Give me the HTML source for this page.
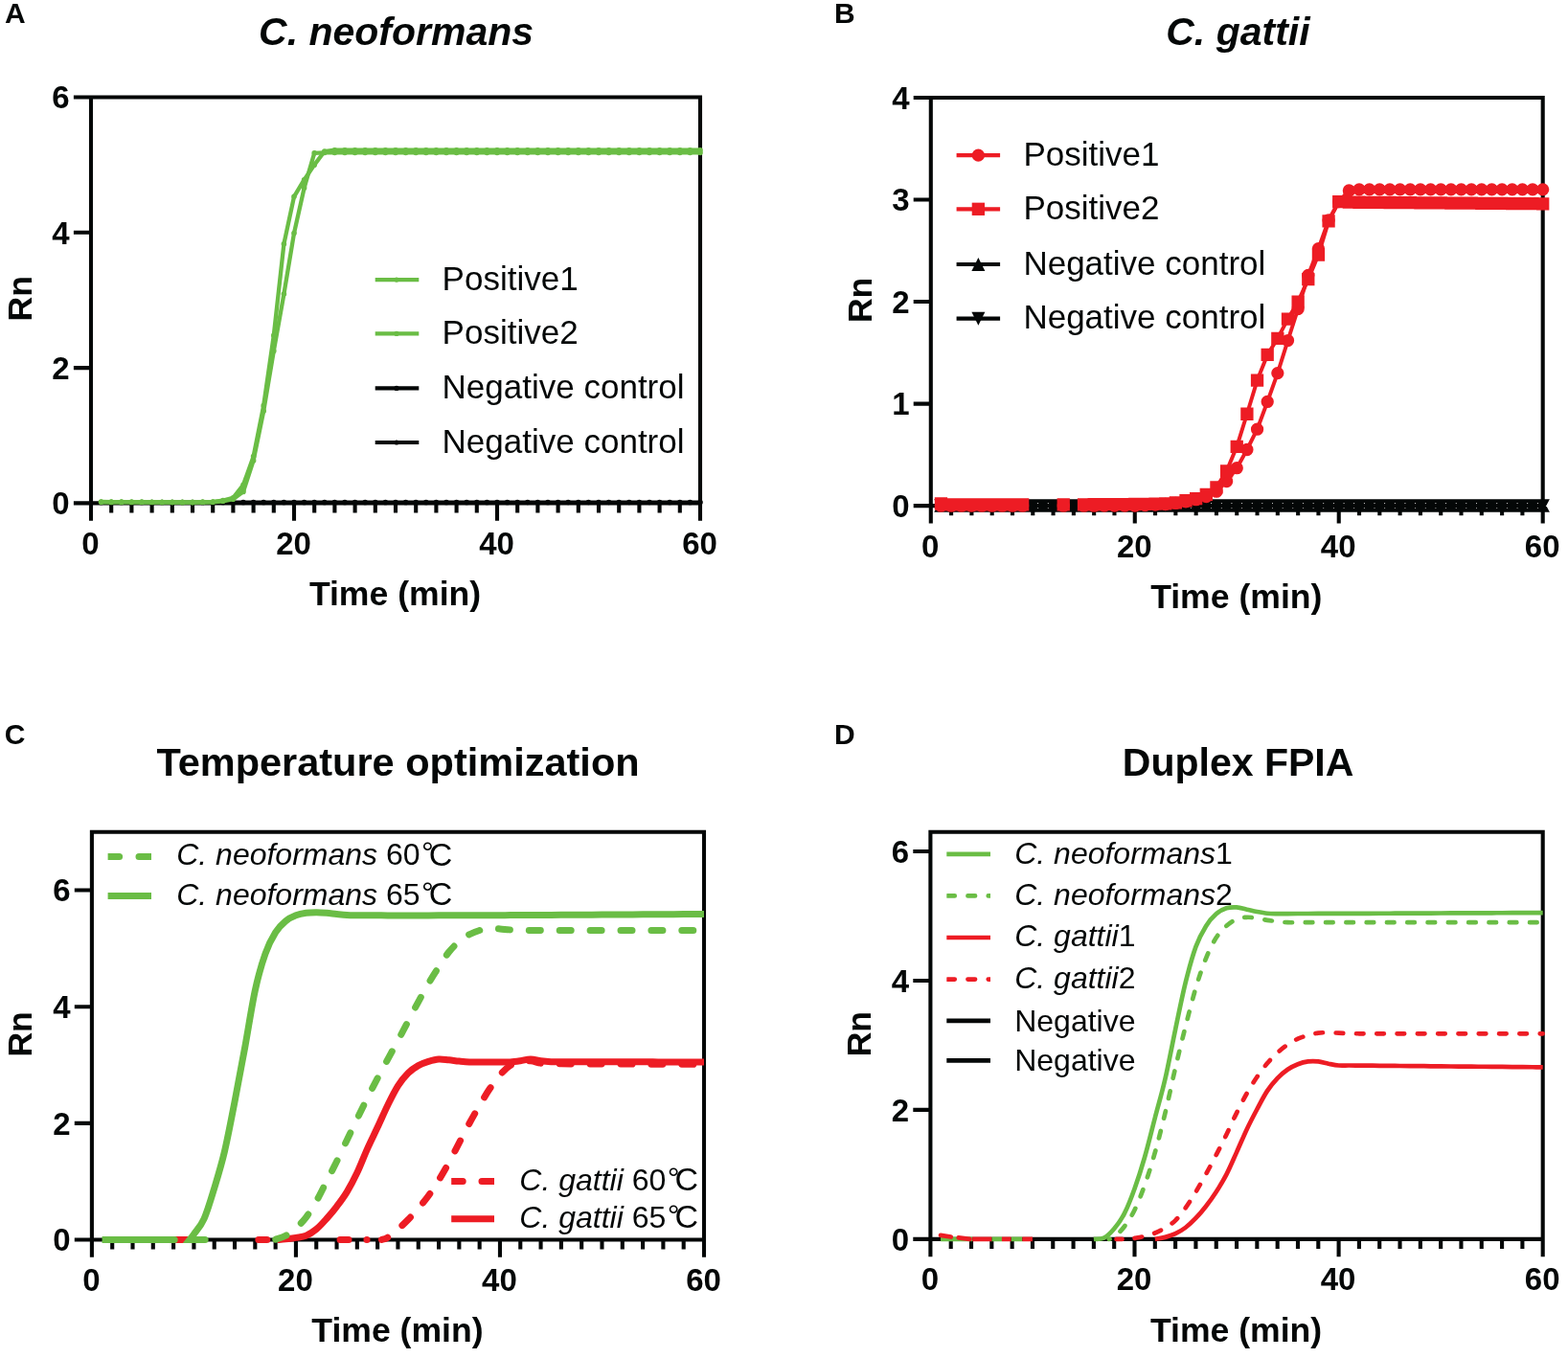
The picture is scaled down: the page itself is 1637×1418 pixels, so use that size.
<!DOCTYPE html>
<html lang="en"><head><meta charset="utf-8"><title>FPIA amplification curves</title>
<style>
html,body{margin:0;padding:0;background:#fff}
svg{display:block}
text{font-family:"Liberation Sans",sans-serif;fill:#040707}
.tk{font-size:33px;font-weight:bold}
.al{font-size:35.6px;font-weight:bold}
.ti{font-size:41px;font-weight:bold}
.pl{font-size:30px;font-weight:bold}
.lg{font-size:35px}
.ls{font-size:32px}
.it{font-style:italic}
</style></head><body>
<svg width="1637" height="1418" viewBox="0 0 1637 1418">
<rect width="1637" height="1418" fill="#fff"/>
<text class="pl" x="5" y="24">A</text>
<text class="pl" x="870.9" y="24">B</text>
<text class="pl" x="4.8" y="777.3">C</text>
<text class="pl" x="870.9" y="777">D</text>
<text class="ti it" text-anchor="middle" x="413.6" y="46.5">C. neoformans</text>
<text class="ti it" text-anchor="middle" x="1292.4" y="46.5">C. gattii</text>
<text class="ti" style="font-size:41.5px" text-anchor="middle" x="415.5" y="809.6">Temperature optimization</text>
<text class="ti" text-anchor="middle" x="1292.6" y="809.9">Duplex FPIA</text>
<g id="panelA">
<path d="M95 101.5H731M92.95 525.4H733.05M95 99.45V543.7M731 99.45V543.7M116.2 525.4V535.5M137.4 525.4V535.5M158.6 525.4V535.5M179.8 525.4V535.5M201 525.4V535.5M222.2 525.4V535.5M243.4 525.4V535.5M264.6 525.4V535.5M285.8 525.4V535.5M307 525.4V543.7M328.2 525.4V535.5M349.4 525.4V535.5M370.6 525.4V535.5M391.8 525.4V535.5M413 525.4V535.5M434.2 525.4V535.5M455.4 525.4V535.5M476.6 525.4V535.5M497.8 525.4V535.5M519 525.4V543.7M540.2 525.4V535.5M561.4 525.4V535.5M582.6 525.4V535.5M603.8 525.4V535.5M625 525.4V535.5M646.2 525.4V535.5M667.4 525.4V535.5M688.6 525.4V535.5M709.8 525.4V535.5M76.9 525.4H95M76.9 384.1H95M76.9 242.8H95M76.9 101.5H95" fill="none" stroke="#040707" stroke-width="4.1"/>
<path d="M105.6 524.55L116.2 524.55L126.8 524.55L137.4 524.55L148 524.55L158.6 524.55L169.2 524.55L179.8 524.55L190.4 524.55L201 524.55L211.6 524.55L222.2 524.55L232.8 524.55L243.4 524.55L254 524.55L264.6 524.55L275.2 524.55L285.8 524.55L296.4 524.55L307 524.55L317.6 524.55L328.2 524.55L338.8 524.55L349.4 524.55L360 524.55L370.6 524.55L381.2 524.55L391.8 524.55L402.4 524.55L413 524.55L423.6 524.55L434.2 524.55L444.8 524.55L455.4 524.55L466 524.55L476.6 524.55L487.2 524.55L497.8 524.55L508.4 524.55L519 524.55L529.6 524.55L540.2 524.55L550.8 524.55L561.4 524.55L572 524.55L582.6 524.55L593.2 524.55L603.8 524.55L614.4 524.55L625 524.55L635.6 524.55L646.2 524.55L656.8 524.55L667.4 524.55L678 524.55L688.6 524.55L699.2 524.55L709.8 524.55L720.4 524.55L731 524.55" fill="none" stroke="#040707" stroke-width="4.3"/>
<path d="M102.8 524.55a2.8 2.8 0 1 0 5.6 0a2.8 2.8 0 1 0 -5.6 0ZM113.4 524.55a2.8 2.8 0 1 0 5.6 0a2.8 2.8 0 1 0 -5.6 0ZM124 524.55a2.8 2.8 0 1 0 5.6 0a2.8 2.8 0 1 0 -5.6 0ZM134.6 524.55a2.8 2.8 0 1 0 5.6 0a2.8 2.8 0 1 0 -5.6 0ZM145.2 524.55a2.8 2.8 0 1 0 5.6 0a2.8 2.8 0 1 0 -5.6 0ZM155.8 524.55a2.8 2.8 0 1 0 5.6 0a2.8 2.8 0 1 0 -5.6 0ZM166.4 524.55a2.8 2.8 0 1 0 5.6 0a2.8 2.8 0 1 0 -5.6 0ZM177 524.55a2.8 2.8 0 1 0 5.6 0a2.8 2.8 0 1 0 -5.6 0ZM187.6 524.55a2.8 2.8 0 1 0 5.6 0a2.8 2.8 0 1 0 -5.6 0ZM198.2 524.55a2.8 2.8 0 1 0 5.6 0a2.8 2.8 0 1 0 -5.6 0ZM208.8 524.55a2.8 2.8 0 1 0 5.6 0a2.8 2.8 0 1 0 -5.6 0ZM219.4 524.55a2.8 2.8 0 1 0 5.6 0a2.8 2.8 0 1 0 -5.6 0ZM230 524.55a2.8 2.8 0 1 0 5.6 0a2.8 2.8 0 1 0 -5.6 0ZM240.6 524.55a2.8 2.8 0 1 0 5.6 0a2.8 2.8 0 1 0 -5.6 0ZM251.2 524.55a2.8 2.8 0 1 0 5.6 0a2.8 2.8 0 1 0 -5.6 0ZM261.8 524.55a2.8 2.8 0 1 0 5.6 0a2.8 2.8 0 1 0 -5.6 0ZM272.4 524.55a2.8 2.8 0 1 0 5.6 0a2.8 2.8 0 1 0 -5.6 0ZM283 524.55a2.8 2.8 0 1 0 5.6 0a2.8 2.8 0 1 0 -5.6 0ZM293.6 524.55a2.8 2.8 0 1 0 5.6 0a2.8 2.8 0 1 0 -5.6 0ZM304.2 524.55a2.8 2.8 0 1 0 5.6 0a2.8 2.8 0 1 0 -5.6 0ZM314.8 524.55a2.8 2.8 0 1 0 5.6 0a2.8 2.8 0 1 0 -5.6 0ZM325.4 524.55a2.8 2.8 0 1 0 5.6 0a2.8 2.8 0 1 0 -5.6 0ZM336 524.55a2.8 2.8 0 1 0 5.6 0a2.8 2.8 0 1 0 -5.6 0ZM346.6 524.55a2.8 2.8 0 1 0 5.6 0a2.8 2.8 0 1 0 -5.6 0ZM357.2 524.55a2.8 2.8 0 1 0 5.6 0a2.8 2.8 0 1 0 -5.6 0ZM367.8 524.55a2.8 2.8 0 1 0 5.6 0a2.8 2.8 0 1 0 -5.6 0ZM378.4 524.55a2.8 2.8 0 1 0 5.6 0a2.8 2.8 0 1 0 -5.6 0ZM389 524.55a2.8 2.8 0 1 0 5.6 0a2.8 2.8 0 1 0 -5.6 0ZM399.6 524.55a2.8 2.8 0 1 0 5.6 0a2.8 2.8 0 1 0 -5.6 0ZM410.2 524.55a2.8 2.8 0 1 0 5.6 0a2.8 2.8 0 1 0 -5.6 0ZM420.8 524.55a2.8 2.8 0 1 0 5.6 0a2.8 2.8 0 1 0 -5.6 0ZM431.4 524.55a2.8 2.8 0 1 0 5.6 0a2.8 2.8 0 1 0 -5.6 0ZM442 524.55a2.8 2.8 0 1 0 5.6 0a2.8 2.8 0 1 0 -5.6 0ZM452.6 524.55a2.8 2.8 0 1 0 5.6 0a2.8 2.8 0 1 0 -5.6 0ZM463.2 524.55a2.8 2.8 0 1 0 5.6 0a2.8 2.8 0 1 0 -5.6 0ZM473.8 524.55a2.8 2.8 0 1 0 5.6 0a2.8 2.8 0 1 0 -5.6 0ZM484.4 524.55a2.8 2.8 0 1 0 5.6 0a2.8 2.8 0 1 0 -5.6 0ZM495 524.55a2.8 2.8 0 1 0 5.6 0a2.8 2.8 0 1 0 -5.6 0ZM505.6 524.55a2.8 2.8 0 1 0 5.6 0a2.8 2.8 0 1 0 -5.6 0ZM516.2 524.55a2.8 2.8 0 1 0 5.6 0a2.8 2.8 0 1 0 -5.6 0ZM526.8 524.55a2.8 2.8 0 1 0 5.6 0a2.8 2.8 0 1 0 -5.6 0ZM537.4 524.55a2.8 2.8 0 1 0 5.6 0a2.8 2.8 0 1 0 -5.6 0ZM548 524.55a2.8 2.8 0 1 0 5.6 0a2.8 2.8 0 1 0 -5.6 0ZM558.6 524.55a2.8 2.8 0 1 0 5.6 0a2.8 2.8 0 1 0 -5.6 0ZM569.2 524.55a2.8 2.8 0 1 0 5.6 0a2.8 2.8 0 1 0 -5.6 0ZM579.8 524.55a2.8 2.8 0 1 0 5.6 0a2.8 2.8 0 1 0 -5.6 0ZM590.4 524.55a2.8 2.8 0 1 0 5.6 0a2.8 2.8 0 1 0 -5.6 0ZM601 524.55a2.8 2.8 0 1 0 5.6 0a2.8 2.8 0 1 0 -5.6 0ZM611.6 524.55a2.8 2.8 0 1 0 5.6 0a2.8 2.8 0 1 0 -5.6 0ZM622.2 524.55a2.8 2.8 0 1 0 5.6 0a2.8 2.8 0 1 0 -5.6 0ZM632.8 524.55a2.8 2.8 0 1 0 5.6 0a2.8 2.8 0 1 0 -5.6 0ZM643.4 524.55a2.8 2.8 0 1 0 5.6 0a2.8 2.8 0 1 0 -5.6 0ZM654 524.55a2.8 2.8 0 1 0 5.6 0a2.8 2.8 0 1 0 -5.6 0ZM664.6 524.55a2.8 2.8 0 1 0 5.6 0a2.8 2.8 0 1 0 -5.6 0ZM675.2 524.55a2.8 2.8 0 1 0 5.6 0a2.8 2.8 0 1 0 -5.6 0ZM685.8 524.55a2.8 2.8 0 1 0 5.6 0a2.8 2.8 0 1 0 -5.6 0ZM696.4 524.55a2.8 2.8 0 1 0 5.6 0a2.8 2.8 0 1 0 -5.6 0ZM707 524.55a2.8 2.8 0 1 0 5.6 0a2.8 2.8 0 1 0 -5.6 0ZM717.6 524.55a2.8 2.8 0 1 0 5.6 0a2.8 2.8 0 1 0 -5.6 0ZM728.2 524.55a2.8 2.8 0 1 0 5.6 0a2.8 2.8 0 1 0 -5.6 0Z" fill="#040707"/>
<path d="M105.6 524.34L116.2 524.38L126.8 524.42L137.4 524.46L148 524.5L158.6 524.54L169.2 524.58L179.8 524.62L190.4 524.65L201 524.69L211.6 524.52L222.2 524.34L232.8 523.28L243.4 521.16L254 513.39L264.6 480.89L275.2 429.32L285.8 366.44L296.4 307.09L307 243.51L317.6 196.17L328.2 159.79L338.8 159.43L349.4 159.43L360 159.43L370.6 159.43L381.2 159.43L391.8 159.43L402.4 159.43L413 159.43L423.6 159.43L434.2 159.43L444.8 159.43L455.4 159.43L466 159.43L476.6 159.43L487.2 159.43L497.8 159.43L508.4 159.43L519 159.43L529.6 159.43L540.2 159.43L550.8 159.43L561.4 159.43L572 159.43L582.6 159.43L593.2 159.43L603.8 159.43L614.4 159.43L625 159.43L635.6 159.43L646.2 159.43L656.8 159.43L667.4 159.43L678 159.43L688.6 159.43L699.2 159.43L709.8 159.43L720.4 159.43L731 159.43" fill="none" stroke="#6abd45" stroke-width="4.3" stroke-linejoin="round"/>
<path d="M102.8 524.34a2.8 2.8 0 1 0 5.6 0a2.8 2.8 0 1 0 -5.6 0ZM113.4 524.38a2.8 2.8 0 1 0 5.6 0a2.8 2.8 0 1 0 -5.6 0ZM124 524.42a2.8 2.8 0 1 0 5.6 0a2.8 2.8 0 1 0 -5.6 0ZM134.6 524.46a2.8 2.8 0 1 0 5.6 0a2.8 2.8 0 1 0 -5.6 0ZM145.2 524.5a2.8 2.8 0 1 0 5.6 0a2.8 2.8 0 1 0 -5.6 0ZM155.8 524.54a2.8 2.8 0 1 0 5.6 0a2.8 2.8 0 1 0 -5.6 0ZM166.4 524.58a2.8 2.8 0 1 0 5.6 0a2.8 2.8 0 1 0 -5.6 0ZM177 524.62a2.8 2.8 0 1 0 5.6 0a2.8 2.8 0 1 0 -5.6 0ZM187.6 524.65a2.8 2.8 0 1 0 5.6 0a2.8 2.8 0 1 0 -5.6 0ZM198.2 524.69a2.8 2.8 0 1 0 5.6 0a2.8 2.8 0 1 0 -5.6 0ZM208.8 524.52a2.8 2.8 0 1 0 5.6 0a2.8 2.8 0 1 0 -5.6 0ZM219.4 524.34a2.8 2.8 0 1 0 5.6 0a2.8 2.8 0 1 0 -5.6 0ZM230 523.28a2.8 2.8 0 1 0 5.6 0a2.8 2.8 0 1 0 -5.6 0ZM240.6 521.16a2.8 2.8 0 1 0 5.6 0a2.8 2.8 0 1 0 -5.6 0ZM251.2 513.39a2.8 2.8 0 1 0 5.6 0a2.8 2.8 0 1 0 -5.6 0ZM261.8 480.89a2.8 2.8 0 1 0 5.6 0a2.8 2.8 0 1 0 -5.6 0ZM272.4 429.32a2.8 2.8 0 1 0 5.6 0a2.8 2.8 0 1 0 -5.6 0ZM283 366.44a2.8 2.8 0 1 0 5.6 0a2.8 2.8 0 1 0 -5.6 0ZM293.6 307.09a2.8 2.8 0 1 0 5.6 0a2.8 2.8 0 1 0 -5.6 0ZM304.2 243.51a2.8 2.8 0 1 0 5.6 0a2.8 2.8 0 1 0 -5.6 0ZM314.8 196.17a2.8 2.8 0 1 0 5.6 0a2.8 2.8 0 1 0 -5.6 0ZM325.4 159.79a2.8 2.8 0 1 0 5.6 0a2.8 2.8 0 1 0 -5.6 0ZM336 159.43a2.8 2.8 0 1 0 5.6 0a2.8 2.8 0 1 0 -5.6 0ZM346.6 159.43a2.8 2.8 0 1 0 5.6 0a2.8 2.8 0 1 0 -5.6 0ZM357.2 159.43a2.8 2.8 0 1 0 5.6 0a2.8 2.8 0 1 0 -5.6 0ZM367.8 159.43a2.8 2.8 0 1 0 5.6 0a2.8 2.8 0 1 0 -5.6 0ZM378.4 159.43a2.8 2.8 0 1 0 5.6 0a2.8 2.8 0 1 0 -5.6 0ZM389 159.43a2.8 2.8 0 1 0 5.6 0a2.8 2.8 0 1 0 -5.6 0ZM399.6 159.43a2.8 2.8 0 1 0 5.6 0a2.8 2.8 0 1 0 -5.6 0ZM410.2 159.43a2.8 2.8 0 1 0 5.6 0a2.8 2.8 0 1 0 -5.6 0ZM420.8 159.43a2.8 2.8 0 1 0 5.6 0a2.8 2.8 0 1 0 -5.6 0ZM431.4 159.43a2.8 2.8 0 1 0 5.6 0a2.8 2.8 0 1 0 -5.6 0ZM442 159.43a2.8 2.8 0 1 0 5.6 0a2.8 2.8 0 1 0 -5.6 0ZM452.6 159.43a2.8 2.8 0 1 0 5.6 0a2.8 2.8 0 1 0 -5.6 0ZM463.2 159.43a2.8 2.8 0 1 0 5.6 0a2.8 2.8 0 1 0 -5.6 0ZM473.8 159.43a2.8 2.8 0 1 0 5.6 0a2.8 2.8 0 1 0 -5.6 0ZM484.4 159.43a2.8 2.8 0 1 0 5.6 0a2.8 2.8 0 1 0 -5.6 0ZM495 159.43a2.8 2.8 0 1 0 5.6 0a2.8 2.8 0 1 0 -5.6 0ZM505.6 159.43a2.8 2.8 0 1 0 5.6 0a2.8 2.8 0 1 0 -5.6 0ZM516.2 159.43a2.8 2.8 0 1 0 5.6 0a2.8 2.8 0 1 0 -5.6 0ZM526.8 159.43a2.8 2.8 0 1 0 5.6 0a2.8 2.8 0 1 0 -5.6 0ZM537.4 159.43a2.8 2.8 0 1 0 5.6 0a2.8 2.8 0 1 0 -5.6 0ZM548 159.43a2.8 2.8 0 1 0 5.6 0a2.8 2.8 0 1 0 -5.6 0ZM558.6 159.43a2.8 2.8 0 1 0 5.6 0a2.8 2.8 0 1 0 -5.6 0ZM569.2 159.43a2.8 2.8 0 1 0 5.6 0a2.8 2.8 0 1 0 -5.6 0ZM579.8 159.43a2.8 2.8 0 1 0 5.6 0a2.8 2.8 0 1 0 -5.6 0ZM590.4 159.43a2.8 2.8 0 1 0 5.6 0a2.8 2.8 0 1 0 -5.6 0ZM601 159.43a2.8 2.8 0 1 0 5.6 0a2.8 2.8 0 1 0 -5.6 0ZM611.6 159.43a2.8 2.8 0 1 0 5.6 0a2.8 2.8 0 1 0 -5.6 0ZM622.2 159.43a2.8 2.8 0 1 0 5.6 0a2.8 2.8 0 1 0 -5.6 0ZM632.8 159.43a2.8 2.8 0 1 0 5.6 0a2.8 2.8 0 1 0 -5.6 0ZM643.4 159.43a2.8 2.8 0 1 0 5.6 0a2.8 2.8 0 1 0 -5.6 0ZM654 159.43a2.8 2.8 0 1 0 5.6 0a2.8 2.8 0 1 0 -5.6 0ZM664.6 159.43a2.8 2.8 0 1 0 5.6 0a2.8 2.8 0 1 0 -5.6 0ZM675.2 159.43a2.8 2.8 0 1 0 5.6 0a2.8 2.8 0 1 0 -5.6 0ZM685.8 159.43a2.8 2.8 0 1 0 5.6 0a2.8 2.8 0 1 0 -5.6 0ZM696.4 159.43a2.8 2.8 0 1 0 5.6 0a2.8 2.8 0 1 0 -5.6 0ZM707 159.43a2.8 2.8 0 1 0 5.6 0a2.8 2.8 0 1 0 -5.6 0ZM717.6 159.43a2.8 2.8 0 1 0 5.6 0a2.8 2.8 0 1 0 -5.6 0ZM728.2 159.43a2.8 2.8 0 1 0 5.6 0a2.8 2.8 0 1 0 -5.6 0Z" fill="#6abd45"/>
<path d="M105.6 523.99L116.2 524.03L126.8 524.07L137.4 524.1L148 524.14L158.6 524.18L169.2 524.22L179.8 524.26L190.4 524.3L201 524.34L211.6 524.16L222.2 523.99L232.8 522.57L243.4 519.75L254 506.32L264.6 476.65L275.2 423.66L285.8 350.19L296.4 254.81L307 205.36L317.6 187.69L328.2 172.15L338.8 158.02L349.4 156.75L360 156.75L370.6 156.75L381.2 156.75L391.8 156.75L402.4 156.75L413 156.75L423.6 156.75L434.2 156.75L444.8 156.75L455.4 156.75L466 156.75L476.6 156.75L487.2 156.75L497.8 156.75L508.4 156.75L519 156.75L529.6 156.75L540.2 156.75L550.8 156.75L561.4 156.75L572 156.75L582.6 156.75L593.2 156.75L603.8 156.75L614.4 156.75L625 156.75L635.6 156.75L646.2 156.75L656.8 156.75L667.4 156.75L678 156.75L688.6 156.75L699.2 156.75L709.8 156.75L720.4 156.75L731 156.75" fill="none" stroke="#6abd45" stroke-width="4.3" stroke-linejoin="round"/>
<path d="M102.8 523.99a2.8 2.8 0 1 0 5.6 0a2.8 2.8 0 1 0 -5.6 0ZM113.4 524.03a2.8 2.8 0 1 0 5.6 0a2.8 2.8 0 1 0 -5.6 0ZM124 524.07a2.8 2.8 0 1 0 5.6 0a2.8 2.8 0 1 0 -5.6 0ZM134.6 524.1a2.8 2.8 0 1 0 5.6 0a2.8 2.8 0 1 0 -5.6 0ZM145.2 524.14a2.8 2.8 0 1 0 5.6 0a2.8 2.8 0 1 0 -5.6 0ZM155.8 524.18a2.8 2.8 0 1 0 5.6 0a2.8 2.8 0 1 0 -5.6 0ZM166.4 524.22a2.8 2.8 0 1 0 5.6 0a2.8 2.8 0 1 0 -5.6 0ZM177 524.26a2.8 2.8 0 1 0 5.6 0a2.8 2.8 0 1 0 -5.6 0ZM187.6 524.3a2.8 2.8 0 1 0 5.6 0a2.8 2.8 0 1 0 -5.6 0ZM198.2 524.34a2.8 2.8 0 1 0 5.6 0a2.8 2.8 0 1 0 -5.6 0ZM208.8 524.16a2.8 2.8 0 1 0 5.6 0a2.8 2.8 0 1 0 -5.6 0ZM219.4 523.99a2.8 2.8 0 1 0 5.6 0a2.8 2.8 0 1 0 -5.6 0ZM230 522.57a2.8 2.8 0 1 0 5.6 0a2.8 2.8 0 1 0 -5.6 0ZM240.6 519.75a2.8 2.8 0 1 0 5.6 0a2.8 2.8 0 1 0 -5.6 0ZM251.2 506.32a2.8 2.8 0 1 0 5.6 0a2.8 2.8 0 1 0 -5.6 0ZM261.8 476.65a2.8 2.8 0 1 0 5.6 0a2.8 2.8 0 1 0 -5.6 0ZM272.4 423.66a2.8 2.8 0 1 0 5.6 0a2.8 2.8 0 1 0 -5.6 0ZM283 350.19a2.8 2.8 0 1 0 5.6 0a2.8 2.8 0 1 0 -5.6 0ZM293.6 254.81a2.8 2.8 0 1 0 5.6 0a2.8 2.8 0 1 0 -5.6 0ZM304.2 205.36a2.8 2.8 0 1 0 5.6 0a2.8 2.8 0 1 0 -5.6 0ZM314.8 187.69a2.8 2.8 0 1 0 5.6 0a2.8 2.8 0 1 0 -5.6 0ZM325.4 172.15a2.8 2.8 0 1 0 5.6 0a2.8 2.8 0 1 0 -5.6 0ZM336 158.02a2.8 2.8 0 1 0 5.6 0a2.8 2.8 0 1 0 -5.6 0ZM346.6 156.75a2.8 2.8 0 1 0 5.6 0a2.8 2.8 0 1 0 -5.6 0ZM357.2 156.75a2.8 2.8 0 1 0 5.6 0a2.8 2.8 0 1 0 -5.6 0ZM367.8 156.75a2.8 2.8 0 1 0 5.6 0a2.8 2.8 0 1 0 -5.6 0ZM378.4 156.75a2.8 2.8 0 1 0 5.6 0a2.8 2.8 0 1 0 -5.6 0ZM389 156.75a2.8 2.8 0 1 0 5.6 0a2.8 2.8 0 1 0 -5.6 0ZM399.6 156.75a2.8 2.8 0 1 0 5.6 0a2.8 2.8 0 1 0 -5.6 0ZM410.2 156.75a2.8 2.8 0 1 0 5.6 0a2.8 2.8 0 1 0 -5.6 0ZM420.8 156.75a2.8 2.8 0 1 0 5.6 0a2.8 2.8 0 1 0 -5.6 0ZM431.4 156.75a2.8 2.8 0 1 0 5.6 0a2.8 2.8 0 1 0 -5.6 0ZM442 156.75a2.8 2.8 0 1 0 5.6 0a2.8 2.8 0 1 0 -5.6 0ZM452.6 156.75a2.8 2.8 0 1 0 5.6 0a2.8 2.8 0 1 0 -5.6 0ZM463.2 156.75a2.8 2.8 0 1 0 5.6 0a2.8 2.8 0 1 0 -5.6 0ZM473.8 156.75a2.8 2.8 0 1 0 5.6 0a2.8 2.8 0 1 0 -5.6 0ZM484.4 156.75a2.8 2.8 0 1 0 5.6 0a2.8 2.8 0 1 0 -5.6 0ZM495 156.75a2.8 2.8 0 1 0 5.6 0a2.8 2.8 0 1 0 -5.6 0ZM505.6 156.75a2.8 2.8 0 1 0 5.6 0a2.8 2.8 0 1 0 -5.6 0ZM516.2 156.75a2.8 2.8 0 1 0 5.6 0a2.8 2.8 0 1 0 -5.6 0ZM526.8 156.75a2.8 2.8 0 1 0 5.6 0a2.8 2.8 0 1 0 -5.6 0ZM537.4 156.75a2.8 2.8 0 1 0 5.6 0a2.8 2.8 0 1 0 -5.6 0ZM548 156.75a2.8 2.8 0 1 0 5.6 0a2.8 2.8 0 1 0 -5.6 0ZM558.6 156.75a2.8 2.8 0 1 0 5.6 0a2.8 2.8 0 1 0 -5.6 0ZM569.2 156.75a2.8 2.8 0 1 0 5.6 0a2.8 2.8 0 1 0 -5.6 0ZM579.8 156.75a2.8 2.8 0 1 0 5.6 0a2.8 2.8 0 1 0 -5.6 0ZM590.4 156.75a2.8 2.8 0 1 0 5.6 0a2.8 2.8 0 1 0 -5.6 0ZM601 156.75a2.8 2.8 0 1 0 5.6 0a2.8 2.8 0 1 0 -5.6 0ZM611.6 156.75a2.8 2.8 0 1 0 5.6 0a2.8 2.8 0 1 0 -5.6 0ZM622.2 156.75a2.8 2.8 0 1 0 5.6 0a2.8 2.8 0 1 0 -5.6 0ZM632.8 156.75a2.8 2.8 0 1 0 5.6 0a2.8 2.8 0 1 0 -5.6 0ZM643.4 156.75a2.8 2.8 0 1 0 5.6 0a2.8 2.8 0 1 0 -5.6 0ZM654 156.75a2.8 2.8 0 1 0 5.6 0a2.8 2.8 0 1 0 -5.6 0ZM664.6 156.75a2.8 2.8 0 1 0 5.6 0a2.8 2.8 0 1 0 -5.6 0ZM675.2 156.75a2.8 2.8 0 1 0 5.6 0a2.8 2.8 0 1 0 -5.6 0ZM685.8 156.75a2.8 2.8 0 1 0 5.6 0a2.8 2.8 0 1 0 -5.6 0ZM696.4 156.75a2.8 2.8 0 1 0 5.6 0a2.8 2.8 0 1 0 -5.6 0ZM707 156.75a2.8 2.8 0 1 0 5.6 0a2.8 2.8 0 1 0 -5.6 0ZM717.6 156.75a2.8 2.8 0 1 0 5.6 0a2.8 2.8 0 1 0 -5.6 0ZM728.2 156.75a2.8 2.8 0 1 0 5.6 0a2.8 2.8 0 1 0 -5.6 0Z" fill="#6abd45"/>
<g class="tk" text-anchor="end">
<text x="72.7" y="537.2">0</text>
<text x="72.7" y="395.9">2</text>
<text x="72.7" y="254.6">4</text>
<text x="72.7" y="113.3">6</text>
</g>
<g class="tk" text-anchor="middle">
<text x="94.5" y="578.9">0</text>
<text x="306.5" y="578.9">20</text>
<text x="518.5" y="578.9">40</text>
<text x="730.5" y="578.9">60</text>
</g>
<text class="al" text-anchor="middle" x="412.5" y="632.2">Time (min)</text>
<text class="al" text-anchor="middle" transform="translate(33.1 311.75) rotate(-90)">Rn</text>
<path d="M391.7 292.1H437.3" stroke="#6abd45" stroke-width="4.2"/>
<circle cx="414" cy="292.1" r="2.6" fill="#6abd45"/>
<text class="lg" x="461.6" y="302.7">Positive1</text>
<path d="M391.7 348.4H437.3" stroke="#6abd45" stroke-width="4.2"/>
<circle cx="414" cy="348.4" r="2.6" fill="#6abd45"/>
<text class="lg" x="461.6" y="359">Positive2</text>
<path d="M391.7 405.4H437.3" stroke="#040707" stroke-width="4.2"/>
<circle cx="414" cy="405.4" r="2.6" fill="#040707"/>
<text class="lg" x="461.6" y="416">Negative control</text>
<path d="M391.7 462.0H437.3" stroke="#040707" stroke-width="4.2"/>
<circle cx="414" cy="462.0" r="2.6" fill="#040707"/>
<text class="lg" x="461.6" y="472.6">Negative control</text>
</g>
<g id="panelB">
<path d="M971.8 102H1610.7M969.75 528.1H1612.75M971.8 99.95V546.4M1610.7 99.95V546.4M993.1 528.1V538.2M1014.39 528.1V538.2M1035.69 528.1V538.2M1056.99 528.1V538.2M1078.28 528.1V538.2M1099.58 528.1V538.2M1120.88 528.1V538.2M1142.17 528.1V538.2M1163.47 528.1V538.2M1184.77 528.1V546.4M1206.06 528.1V538.2M1227.36 528.1V538.2M1248.66 528.1V538.2M1269.95 528.1V538.2M1291.25 528.1V538.2M1312.55 528.1V538.2M1333.84 528.1V538.2M1355.14 528.1V538.2M1376.44 528.1V538.2M1397.73 528.1V546.4M1419.03 528.1V538.2M1440.33 528.1V538.2M1461.62 528.1V538.2M1482.92 528.1V538.2M1504.22 528.1V538.2M1525.51 528.1V538.2M1546.81 528.1V538.2M1568.11 528.1V538.2M1589.4 528.1V538.2M953.7 528.1H971.8M953.7 421.58H971.8M953.7 315.05H971.8M953.7 208.52H971.8M953.7 102H971.8" fill="none" stroke="#040707" stroke-width="4.1"/>
<path d="M982.45 528.1H1610.7" stroke="#040707" stroke-width="4" fill="none"/>
<path d="M982.45 521.35L989.65 534.85H975.25ZM982.45 534.85L975.25 521.35H989.65ZM993.1 521.35L1000.3 534.85H985.9ZM993.1 534.85L985.9 521.35H1000.3ZM1003.75 521.35L1010.95 534.85H996.54ZM1003.75 534.85L996.54 521.35H1010.95ZM1014.39 521.35L1021.59 534.85H1007.19ZM1014.39 534.85L1007.19 521.35H1021.59ZM1025.04 521.35L1032.24 534.85H1017.84ZM1025.04 534.85L1017.84 521.35H1032.24ZM1035.69 521.35L1042.89 534.85H1028.49ZM1035.69 534.85L1028.49 521.35H1042.89ZM1046.34 521.35L1053.54 534.85H1039.14ZM1046.34 534.85L1039.14 521.35H1053.54ZM1056.99 521.35L1064.19 534.85H1049.79ZM1056.99 534.85L1049.79 521.35H1064.19ZM1067.63 521.35L1074.84 534.85H1060.43ZM1067.63 534.85L1060.43 521.35H1074.84ZM1078.28 521.35L1085.48 534.85H1071.08ZM1078.28 534.85L1071.08 521.35H1085.48ZM1088.93 521.35L1096.13 534.85H1081.73ZM1088.93 534.85L1081.73 521.35H1096.13ZM1099.58 521.35L1106.78 534.85H1092.38ZM1099.58 534.85L1092.38 521.35H1106.78ZM1110.23 521.35L1117.43 534.85H1103.03ZM1110.23 534.85L1103.03 521.35H1117.43ZM1120.88 521.35L1128.08 534.85H1113.68ZM1120.88 534.85L1113.68 521.35H1128.08ZM1131.53 521.35L1138.73 534.85H1124.33ZM1131.53 534.85L1124.33 521.35H1138.73ZM1142.17 521.35L1149.37 534.85H1134.97ZM1142.17 534.85L1134.97 521.35H1149.37ZM1152.82 521.35L1160.02 534.85H1145.62ZM1152.82 534.85L1145.62 521.35H1160.02ZM1163.47 521.35L1170.67 534.85H1156.27ZM1163.47 534.85L1156.27 521.35H1170.67ZM1174.12 521.35L1181.32 534.85H1166.92ZM1174.12 534.85L1166.92 521.35H1181.32ZM1184.77 521.35L1191.97 534.85H1177.57ZM1184.77 534.85L1177.57 521.35H1191.97ZM1195.41 521.35L1202.62 534.85H1188.21ZM1195.41 534.85L1188.21 521.35H1202.62ZM1206.06 521.35L1213.26 534.85H1198.86ZM1206.06 534.85L1198.86 521.35H1213.26ZM1216.71 521.35L1223.91 534.85H1209.51ZM1216.71 534.85L1209.51 521.35H1223.91ZM1227.36 521.35L1234.56 534.85H1220.16ZM1227.36 534.85L1220.16 521.35H1234.56ZM1238.01 521.35L1245.21 534.85H1230.81ZM1238.01 534.85L1230.81 521.35H1245.21ZM1248.66 521.35L1255.86 534.85H1241.46ZM1248.66 534.85L1241.46 521.35H1255.86ZM1259.31 521.35L1266.51 534.85H1252.11ZM1259.31 534.85L1252.11 521.35H1266.51ZM1269.95 521.35L1277.15 534.85H1262.75ZM1269.95 534.85L1262.75 521.35H1277.15ZM1280.6 521.35L1287.8 534.85H1273.4ZM1280.6 534.85L1273.4 521.35H1287.8ZM1291.25 521.35L1298.45 534.85H1284.05ZM1291.25 534.85L1284.05 521.35H1298.45ZM1301.9 521.35L1309.1 534.85H1294.7ZM1301.9 534.85L1294.7 521.35H1309.1ZM1312.55 521.35L1319.75 534.85H1305.35ZM1312.55 534.85L1305.35 521.35H1319.75ZM1323.19 521.35L1330.39 534.85H1315.99ZM1323.19 534.85L1315.99 521.35H1330.39ZM1333.84 521.35L1341.04 534.85H1326.64ZM1333.84 534.85L1326.64 521.35H1341.04ZM1344.49 521.35L1351.69 534.85H1337.29ZM1344.49 534.85L1337.29 521.35H1351.69ZM1355.14 521.35L1362.34 534.85H1347.94ZM1355.14 534.85L1347.94 521.35H1362.34ZM1365.79 521.35L1372.99 534.85H1358.59ZM1365.79 534.85L1358.59 521.35H1372.99ZM1376.44 521.35L1383.64 534.85H1369.24ZM1376.44 534.85L1369.24 521.35H1383.64ZM1387.09 521.35L1394.29 534.85H1379.88ZM1387.09 534.85L1379.88 521.35H1394.29ZM1397.73 521.35L1404.93 534.85H1390.53ZM1397.73 534.85L1390.53 521.35H1404.93ZM1408.38 521.35L1415.58 534.85H1401.18ZM1408.38 534.85L1401.18 521.35H1415.58ZM1419.03 521.35L1426.23 534.85H1411.83ZM1419.03 534.85L1411.83 521.35H1426.23ZM1429.68 521.35L1436.88 534.85H1422.48ZM1429.68 534.85L1422.48 521.35H1436.88ZM1440.33 521.35L1447.53 534.85H1433.13ZM1440.33 534.85L1433.13 521.35H1447.53ZM1450.97 521.35L1458.17 534.85H1443.77ZM1450.97 534.85L1443.77 521.35H1458.17ZM1461.62 521.35L1468.82 534.85H1454.42ZM1461.62 534.85L1454.42 521.35H1468.82ZM1472.27 521.35L1479.47 534.85H1465.07ZM1472.27 534.85L1465.07 521.35H1479.47ZM1482.92 521.35L1490.12 534.85H1475.72ZM1482.92 534.85L1475.72 521.35H1490.12ZM1493.57 521.35L1500.77 534.85H1486.37ZM1493.57 534.85L1486.37 521.35H1500.77ZM1504.22 521.35L1511.42 534.85H1497.02ZM1504.22 534.85L1497.02 521.35H1511.42ZM1514.87 521.35L1522.07 534.85H1507.66ZM1514.87 534.85L1507.66 521.35H1522.07ZM1525.51 521.35L1532.71 534.85H1518.31ZM1525.51 534.85L1518.31 521.35H1532.71ZM1536.16 521.35L1543.36 534.85H1528.96ZM1536.16 534.85L1528.96 521.35H1543.36ZM1546.81 521.35L1554.01 534.85H1539.61ZM1546.81 534.85L1539.61 521.35H1554.01ZM1557.46 521.35L1564.66 534.85H1550.26ZM1557.46 534.85L1550.26 521.35H1564.66ZM1568.11 521.35L1575.31 534.85H1560.91ZM1568.11 534.85L1560.91 521.35H1575.31ZM1578.76 521.35L1585.96 534.85H1571.56ZM1578.76 534.85L1571.56 521.35H1585.96ZM1589.4 521.35L1596.6 534.85H1582.2ZM1589.4 534.85L1582.2 521.35H1596.6ZM1600.05 521.35L1607.25 534.85H1592.85ZM1600.05 534.85L1592.85 521.35H1607.25ZM1610.7 521.35L1617.9 534.85H1603.5ZM1610.7 534.85L1603.5 521.35H1617.9Z" fill="#040707"/>
<path d="M982.45 528.21L993.1 528.21L1003.75 528.21L1014.39 528.21L1025.04 528.21L1035.69 528.21L1046.34 528.21L1056.99 528.21L1067.63 528.21" fill="none" stroke="#ed1c24" stroke-width="4" stroke-linejoin="round"/>
<path d="M1131.53 528.21L1142.17 528.19L1152.82 528.16L1163.47 528.14L1174.12 528.12L1184.77 528.1L1195.41 527.57L1206.06 527.03L1216.71 526.5L1227.36 525.44L1238.01 523.84L1248.66 521.71L1259.31 518.51L1269.95 513.19L1280.6 502.53L1291.25 488.69L1301.9 469.51L1312.55 448.21L1323.19 419.44L1333.84 389.62L1344.49 355.53L1355.14 322.51L1365.79 287.35L1376.44 259.66L1387.09 229.83L1397.73 210.66L1408.38 198.94L1419.03 197.87L1429.68 197.87L1440.33 197.87L1450.97 197.87L1461.62 197.87L1472.27 197.87L1482.92 197.87L1493.57 197.87L1504.22 197.87L1514.87 197.87L1525.51 197.87L1536.16 197.87L1546.81 197.87L1557.46 197.87L1568.11 197.87L1578.76 197.87L1589.4 197.87L1600.05 197.87L1610.7 197.87" fill="none" stroke="#ed1c24" stroke-width="4" stroke-linejoin="round"/>
<path d="M975.8 528.21a6.65 6.65 0 1 0 13.3 0a6.65 6.65 0 1 0 -13.3 0ZM986.45 528.21a6.65 6.65 0 1 0 13.3 0a6.65 6.65 0 1 0 -13.3 0ZM997.1 528.21a6.65 6.65 0 1 0 13.3 0a6.65 6.65 0 1 0 -13.3 0ZM1007.74 528.21a6.65 6.65 0 1 0 13.3 0a6.65 6.65 0 1 0 -13.3 0ZM1018.39 528.21a6.65 6.65 0 1 0 13.3 0a6.65 6.65 0 1 0 -13.3 0ZM1029.04 528.21a6.65 6.65 0 1 0 13.3 0a6.65 6.65 0 1 0 -13.3 0ZM1039.69 528.21a6.65 6.65 0 1 0 13.3 0a6.65 6.65 0 1 0 -13.3 0ZM1050.34 528.21a6.65 6.65 0 1 0 13.3 0a6.65 6.65 0 1 0 -13.3 0ZM1060.98 528.21a6.65 6.65 0 1 0 13.3 0a6.65 6.65 0 1 0 -13.3 0ZM1103.58 528.21a6.65 6.65 0 1 0 13.3 0a6.65 6.65 0 1 0 -13.3 0ZM1124.88 528.21a6.65 6.65 0 1 0 13.3 0a6.65 6.65 0 1 0 -13.3 0ZM1135.52 528.19a6.65 6.65 0 1 0 13.3 0a6.65 6.65 0 1 0 -13.3 0ZM1146.17 528.16a6.65 6.65 0 1 0 13.3 0a6.65 6.65 0 1 0 -13.3 0ZM1156.82 528.14a6.65 6.65 0 1 0 13.3 0a6.65 6.65 0 1 0 -13.3 0ZM1167.47 528.12a6.65 6.65 0 1 0 13.3 0a6.65 6.65 0 1 0 -13.3 0ZM1178.12 528.1a6.65 6.65 0 1 0 13.3 0a6.65 6.65 0 1 0 -13.3 0ZM1188.76 527.57a6.65 6.65 0 1 0 13.3 0a6.65 6.65 0 1 0 -13.3 0ZM1199.41 527.03a6.65 6.65 0 1 0 13.3 0a6.65 6.65 0 1 0 -13.3 0ZM1210.06 526.5a6.65 6.65 0 1 0 13.3 0a6.65 6.65 0 1 0 -13.3 0ZM1220.71 525.44a6.65 6.65 0 1 0 13.3 0a6.65 6.65 0 1 0 -13.3 0ZM1231.36 523.84a6.65 6.65 0 1 0 13.3 0a6.65 6.65 0 1 0 -13.3 0ZM1242.01 521.71a6.65 6.65 0 1 0 13.3 0a6.65 6.65 0 1 0 -13.3 0ZM1252.65 518.51a6.65 6.65 0 1 0 13.3 0a6.65 6.65 0 1 0 -13.3 0ZM1263.3 513.19a6.65 6.65 0 1 0 13.3 0a6.65 6.65 0 1 0 -13.3 0ZM1273.95 502.53a6.65 6.65 0 1 0 13.3 0a6.65 6.65 0 1 0 -13.3 0ZM1284.6 488.69a6.65 6.65 0 1 0 13.3 0a6.65 6.65 0 1 0 -13.3 0ZM1295.25 469.51a6.65 6.65 0 1 0 13.3 0a6.65 6.65 0 1 0 -13.3 0ZM1305.9 448.21a6.65 6.65 0 1 0 13.3 0a6.65 6.65 0 1 0 -13.3 0ZM1316.54 419.44a6.65 6.65 0 1 0 13.3 0a6.65 6.65 0 1 0 -13.3 0ZM1327.19 389.62a6.65 6.65 0 1 0 13.3 0a6.65 6.65 0 1 0 -13.3 0ZM1337.84 355.53a6.65 6.65 0 1 0 13.3 0a6.65 6.65 0 1 0 -13.3 0ZM1348.49 322.51a6.65 6.65 0 1 0 13.3 0a6.65 6.65 0 1 0 -13.3 0ZM1359.14 287.35a6.65 6.65 0 1 0 13.3 0a6.65 6.65 0 1 0 -13.3 0ZM1369.79 259.66a6.65 6.65 0 1 0 13.3 0a6.65 6.65 0 1 0 -13.3 0ZM1380.43 229.83a6.65 6.65 0 1 0 13.3 0a6.65 6.65 0 1 0 -13.3 0ZM1391.08 210.66a6.65 6.65 0 1 0 13.3 0a6.65 6.65 0 1 0 -13.3 0ZM1401.73 198.94a6.65 6.65 0 1 0 13.3 0a6.65 6.65 0 1 0 -13.3 0ZM1412.38 197.87a6.65 6.65 0 1 0 13.3 0a6.65 6.65 0 1 0 -13.3 0ZM1423.03 197.87a6.65 6.65 0 1 0 13.3 0a6.65 6.65 0 1 0 -13.3 0ZM1433.68 197.87a6.65 6.65 0 1 0 13.3 0a6.65 6.65 0 1 0 -13.3 0ZM1444.32 197.87a6.65 6.65 0 1 0 13.3 0a6.65 6.65 0 1 0 -13.3 0ZM1454.97 197.87a6.65 6.65 0 1 0 13.3 0a6.65 6.65 0 1 0 -13.3 0ZM1465.62 197.87a6.65 6.65 0 1 0 13.3 0a6.65 6.65 0 1 0 -13.3 0ZM1476.27 197.87a6.65 6.65 0 1 0 13.3 0a6.65 6.65 0 1 0 -13.3 0ZM1486.92 197.87a6.65 6.65 0 1 0 13.3 0a6.65 6.65 0 1 0 -13.3 0ZM1497.57 197.87a6.65 6.65 0 1 0 13.3 0a6.65 6.65 0 1 0 -13.3 0ZM1508.21 197.87a6.65 6.65 0 1 0 13.3 0a6.65 6.65 0 1 0 -13.3 0ZM1518.86 197.87a6.65 6.65 0 1 0 13.3 0a6.65 6.65 0 1 0 -13.3 0ZM1529.51 197.87a6.65 6.65 0 1 0 13.3 0a6.65 6.65 0 1 0 -13.3 0ZM1540.16 197.87a6.65 6.65 0 1 0 13.3 0a6.65 6.65 0 1 0 -13.3 0ZM1550.81 197.87a6.65 6.65 0 1 0 13.3 0a6.65 6.65 0 1 0 -13.3 0ZM1561.46 197.87a6.65 6.65 0 1 0 13.3 0a6.65 6.65 0 1 0 -13.3 0ZM1572.11 197.87a6.65 6.65 0 1 0 13.3 0a6.65 6.65 0 1 0 -13.3 0ZM1582.75 197.87a6.65 6.65 0 1 0 13.3 0a6.65 6.65 0 1 0 -13.3 0ZM1593.4 197.87a6.65 6.65 0 1 0 13.3 0a6.65 6.65 0 1 0 -13.3 0ZM1604.05 197.87a6.65 6.65 0 1 0 13.3 0a6.65 6.65 0 1 0 -13.3 0Z" fill="#ed1c24"/>
<path d="M982.45 525.86L993.1 526.82L1003.75 526.82L1014.39 526.82L1025.04 526.82L1035.69 526.82L1046.34 526.82L1056.99 526.82L1067.63 526.82" fill="none" stroke="#ed1c24" stroke-width="4" stroke-linejoin="round"/>
<path d="M1131.53 526.82L1142.17 526.76L1152.82 526.69L1163.47 526.63L1174.12 526.57L1184.77 526.5L1195.41 526.32L1206.06 526.15L1216.71 525.97L1227.36 524.9L1238.01 522.77L1248.66 520.64L1259.31 516.38L1269.95 508.93L1280.6 491.88L1291.25 466.32L1301.9 432.23L1312.55 397.07L1323.19 370.44L1333.84 353.4L1344.49 333.16L1355.14 315.05L1365.79 291.61L1376.44 266.05L1387.09 230.9L1397.73 210.66L1408.38 211.19L1419.03 211.27L1429.68 211.36L1440.33 211.44L1450.97 211.52L1461.62 211.61L1472.27 211.69L1482.92 211.78L1493.57 211.86L1504.22 211.95L1514.87 212.03L1525.51 212.11L1536.16 212.2L1546.81 212.28L1557.46 212.37L1568.11 212.45L1578.76 212.53L1589.4 212.62L1600.05 212.7L1610.7 212.79" fill="none" stroke="#ed1c24" stroke-width="4" stroke-linejoin="round"/>
<path d="M975.8 519.21h13.3v13.3h-13.3ZM986.45 520.17h13.3v13.3h-13.3ZM997.1 520.17h13.3v13.3h-13.3ZM1007.74 520.17h13.3v13.3h-13.3ZM1018.39 520.17h13.3v13.3h-13.3ZM1029.04 520.17h13.3v13.3h-13.3ZM1039.69 520.17h13.3v13.3h-13.3ZM1050.34 520.17h13.3v13.3h-13.3ZM1060.98 520.17h13.3v13.3h-13.3ZM1103.58 520.17h13.3v13.3h-13.3ZM1124.88 520.17h13.3v13.3h-13.3ZM1135.52 520.11h13.3v13.3h-13.3ZM1146.17 520.04h13.3v13.3h-13.3ZM1156.82 519.98h13.3v13.3h-13.3ZM1167.47 519.92h13.3v13.3h-13.3ZM1178.12 519.85h13.3v13.3h-13.3ZM1188.76 519.67h13.3v13.3h-13.3ZM1199.41 519.5h13.3v13.3h-13.3ZM1210.06 519.32h13.3v13.3h-13.3ZM1220.71 518.25h13.3v13.3h-13.3ZM1231.36 516.12h13.3v13.3h-13.3ZM1242.01 513.99h13.3v13.3h-13.3ZM1252.65 509.73h13.3v13.3h-13.3ZM1263.3 502.28h13.3v13.3h-13.3ZM1273.95 485.23h13.3v13.3h-13.3ZM1284.6 459.67h13.3v13.3h-13.3ZM1295.25 425.58h13.3v13.3h-13.3ZM1305.9 390.42h13.3v13.3h-13.3ZM1316.54 363.79h13.3v13.3h-13.3ZM1327.19 346.75h13.3v13.3h-13.3ZM1337.84 326.51h13.3v13.3h-13.3ZM1348.49 308.4h13.3v13.3h-13.3ZM1359.14 284.96h13.3v13.3h-13.3ZM1369.79 259.4h13.3v13.3h-13.3ZM1380.43 224.25h13.3v13.3h-13.3ZM1391.08 204.01h13.3v13.3h-13.3ZM1401.73 204.54h13.3v13.3h-13.3ZM1412.38 204.62h13.3v13.3h-13.3ZM1423.03 204.71h13.3v13.3h-13.3ZM1433.68 204.79h13.3v13.3h-13.3ZM1444.32 204.87h13.3v13.3h-13.3ZM1454.97 204.96h13.3v13.3h-13.3ZM1465.62 205.04h13.3v13.3h-13.3ZM1476.27 205.13h13.3v13.3h-13.3ZM1486.92 205.21h13.3v13.3h-13.3ZM1497.57 205.3h13.3v13.3h-13.3ZM1508.21 205.38h13.3v13.3h-13.3ZM1518.86 205.46h13.3v13.3h-13.3ZM1529.51 205.55h13.3v13.3h-13.3ZM1540.16 205.63h13.3v13.3h-13.3ZM1550.81 205.72h13.3v13.3h-13.3ZM1561.46 205.8h13.3v13.3h-13.3ZM1572.11 205.88h13.3v13.3h-13.3ZM1582.75 205.97h13.3v13.3h-13.3ZM1593.4 206.05h13.3v13.3h-13.3ZM1604.05 206.14h13.3v13.3h-13.3Z" fill="#ed1c24"/>
<g class="tk" text-anchor="end">
<text x="949.5" y="539.9">0</text>
<text x="949.5" y="433.38">1</text>
<text x="949.5" y="326.85">2</text>
<text x="949.5" y="220.32">3</text>
<text x="949.5" y="113.8">4</text>
</g>
<g class="tk" text-anchor="middle">
<text x="971.3" y="581.6">0</text>
<text x="1184.27" y="581.6">20</text>
<text x="1397.23" y="581.6">40</text>
<text x="1610.2" y="581.6">60</text>
</g>
<text class="al" text-anchor="middle" x="1290.75" y="634.9">Time (min)</text>
<text class="al" text-anchor="middle" transform="translate(909.8 313.35) rotate(-90)">Rn</text>
<path d="M998.6 162.1H1044.1" stroke="#ed1c24" stroke-width="4.2"/>
<circle cx="1021.35" cy="162.1" r="6.65" fill="#ed1c24"/>
<text class="lg" x="1068.4" y="172.8">Positive1</text>
<path d="M998.6 218.3H1044.1" stroke="#ed1c24" stroke-width="4.2"/>
<rect x="1014.7" y="211.65" width="13.3" height="13.3" fill="#ed1c24"/>
<text class="lg" x="1068.4" y="229">Positive2</text>
<path d="M998.6 276.0H1044.1" stroke="#040707" stroke-width="4.2"/>
<path d="M1021.35 269L1028.35 283H1014.35Z" fill="#040707"/>
<text class="lg" x="1068.4" y="286.7">Negative control</text>
<path d="M998.6 332.7H1044.1" stroke="#040707" stroke-width="4.2"/>
<path d="M1021.35 339.7L1028.35 325.7H1014.35Z" fill="#040707"/>
<text class="lg" x="1068.4" y="343.4">Negative control</text>
</g>
<g id="panelC">
<path d="M95.9 868.7H735M93.85 1294.5H737.05M95.9 866.65V1312.8M735 866.65V1312.8M117.2 1294.5V1304.6M138.51 1294.5V1304.6M159.81 1294.5V1304.6M181.11 1294.5V1304.6M202.42 1294.5V1304.6M223.72 1294.5V1304.6M245.02 1294.5V1304.6M266.33 1294.5V1304.6M287.63 1294.5V1304.6M308.93 1294.5V1312.8M330.24 1294.5V1304.6M351.54 1294.5V1304.6M372.84 1294.5V1304.6M394.15 1294.5V1304.6M415.45 1294.5V1304.6M436.75 1294.5V1304.6M458.06 1294.5V1304.6M479.36 1294.5V1304.6M500.66 1294.5V1304.6M521.97 1294.5V1312.8M543.27 1294.5V1304.6M564.57 1294.5V1304.6M585.88 1294.5V1304.6M607.18 1294.5V1304.6M628.48 1294.5V1304.6M649.79 1294.5V1304.6M671.09 1294.5V1304.6M692.39 1294.5V1304.6M713.7 1294.5V1304.6M77.8 1294.5H95.9M77.8 1172.84H95.9M77.8 1051.19H95.9M77.8 929.53H95.9" fill="none" stroke="#040707" stroke-width="4.1"/>
<path d="M182.18 1294.5H205.61" stroke="#ed1c24" stroke-width="7"/>
<path d="M269.83 1294.5H278.8M355.04 1294.5H364.02M382.96 1294.5h0.1" stroke="#ed1c24" stroke-width="7" stroke-linecap="round"/>
<path d="M735 1111.41C733.22 1111.4 727.9 1111.38 724.35 1111.37C720.8 1111.35 717.25 1111.34 713.7 1111.32C710.15 1111.31 706.6 1111.3 703.04 1111.28C699.49 1111.27 695.94 1111.26 692.39 1111.24C688.84 1111.23 685.29 1111.22 681.74 1111.2C678.19 1111.19 674.64 1111.18 671.09 1111.16C667.54 1111.15 663.99 1111.14 660.44 1111.12C656.89 1111.11 653.34 1111.1 649.79 1111.08C646.24 1111.07 642.69 1111.05 639.13 1111.04C635.58 1111.03 632.03 1111.01 628.48 1111C624.93 1110.99 621.38 1110.97 617.83 1110.96C614.28 1110.95 610.73 1110.93 607.18 1110.92C603.63 1110.91 600.08 1110.89 596.53 1110.88C592.98 1110.87 589.43 1110.85 585.88 1110.84C582.33 1110.82 578.78 1110.91 575.23 1110.8C571.67 1110.69 568.12 1110.7 564.57 1110.19C561.02 1109.68 557.47 1107.96 553.92 1107.76C550.37 1107.55 546.82 1108.16 543.27 1108.97C539.72 1109.78 536.17 1110.36 532.62 1112.62C529.07 1114.88 525.52 1118.5 521.97 1122.54C518.42 1126.57 514.87 1131.55 511.32 1136.83C507.76 1142.11 504.21 1148.2 500.66 1154.23C497.11 1160.26 493.56 1166.51 490.01 1173.03C486.46 1179.54 482.91 1186.54 479.36 1193.34C475.81 1200.14 472.26 1207.35 468.71 1213.84C465.16 1220.33 461.61 1226.49 458.06 1232.27C454.51 1238.05 450.96 1243.62 447.4 1248.51C443.85 1253.41 440.3 1257.49 436.75 1261.65C433.2 1265.82 429.65 1269.86 426.1 1273.51C422.55 1277.16 419 1280.46 415.45 1283.55C411.9 1286.64 407.64 1290.24 404.8 1292.07C401.96 1293.89 399.47 1294.09 398.41 1294.5" fill="none" stroke="#ed1c24" stroke-width="7" stroke-linecap="round" stroke-dasharray="12 19.9" stroke-dashoffset="20.7"/>
<path d="M289.76 1294.5C291.18 1294.4 295.09 1294.25 298.28 1293.89C301.48 1293.54 305.38 1292.98 308.93 1292.37C312.48 1291.76 316.03 1291.71 319.59 1290.24C323.14 1288.77 326.69 1286.49 330.24 1283.55C333.79 1280.61 337.34 1276.56 340.89 1272.6C344.44 1268.65 347.99 1264.49 351.54 1259.83C355.09 1255.16 358.64 1250.5 362.19 1244.62C365.74 1238.74 369.29 1232.05 372.84 1224.55C376.39 1217.04 379.94 1207.52 383.5 1199.61C387.05 1191.7 390.6 1184.7 394.15 1177.1C397.7 1169.5 401.25 1161.18 404.8 1153.99C408.35 1146.79 411.9 1139.49 415.45 1133.91C419 1128.34 422.55 1124.08 426.1 1120.53C429.65 1116.98 433.2 1114.65 436.75 1112.62C440.3 1110.59 443.85 1109.48 447.4 1108.36C450.96 1107.25 454.51 1106.18 458.06 1105.93C461.61 1105.68 465.16 1106.49 468.71 1106.84C472.26 1107.2 475.81 1107.71 479.36 1108.06C482.91 1108.42 486.46 1108.82 490.01 1108.97C493.56 1109.12 497.11 1108.97 500.66 1108.97C504.21 1108.97 507.76 1108.97 511.32 1108.97C514.87 1108.97 518.42 1108.97 521.97 1108.97C525.52 1108.97 529.07 1109.18 532.62 1108.97C536.17 1108.77 539.72 1108.26 543.27 1107.76C546.82 1107.25 550.37 1105.93 553.92 1105.93C557.47 1105.93 561.02 1107.3 564.57 1107.76C568.12 1108.21 571.67 1108.51 575.23 1108.67C578.78 1108.82 582.33 1108.68 585.88 1108.69C589.43 1108.7 592.98 1108.7 596.53 1108.71C600.08 1108.72 603.63 1108.72 607.18 1108.73C610.73 1108.74 614.28 1108.74 617.83 1108.75C621.38 1108.76 624.93 1108.76 628.48 1108.77C632.03 1108.78 635.58 1108.78 639.13 1108.79C642.69 1108.8 646.24 1108.8 649.79 1108.81C653.34 1108.82 656.89 1108.82 660.44 1108.83C663.99 1108.84 667.54 1108.84 671.09 1108.85C674.64 1108.86 678.19 1108.86 681.74 1108.87C685.29 1108.88 688.84 1108.88 692.39 1108.89C695.94 1108.9 699.49 1108.91 703.04 1108.91C706.6 1108.92 710.15 1108.93 713.7 1108.93C717.25 1108.94 720.8 1108.95 724.35 1108.95C727.9 1108.96 733.22 1108.97 735 1108.97" fill="none" stroke="#ed1c24" stroke-width="7"/>
<path d="M735 971.5C733.22 971.5 727.9 971.5 724.35 971.5C720.8 971.5 717.25 971.5 713.7 971.5C710.15 971.5 706.6 971.5 703.04 971.5C699.49 971.5 695.94 971.5 692.39 971.5C688.84 971.5 685.29 971.5 681.74 971.5C678.19 971.5 674.64 971.5 671.09 971.5C667.54 971.5 663.99 971.5 660.44 971.5C656.89 971.5 653.34 971.5 649.79 971.5C646.24 971.5 642.69 971.5 639.13 971.5C635.58 971.5 632.03 971.5 628.48 971.5C624.93 971.5 621.38 971.5 617.83 971.5C614.28 971.5 610.73 971.5 607.18 971.5C603.63 971.5 600.08 971.5 596.53 971.5C592.98 971.5 589.43 971.5 585.88 971.5C582.33 971.5 578.78 971.5 575.23 971.5C571.67 971.5 568.12 971.5 564.57 971.5C561.02 971.5 557.47 971.55 553.92 971.5C550.37 971.45 546.82 971.3 543.27 971.2C539.72 971.09 536.17 971.09 532.62 970.89C529.07 970.69 525.52 970.23 521.97 969.98C518.42 969.73 514.87 969.12 511.32 969.37C507.76 969.62 504.21 970.44 500.66 971.5C497.11 972.56 493.56 973.83 490.01 975.76C486.46 977.68 482.91 980.02 479.36 983.06C475.81 986.1 472.26 989.58 468.71 994.01C465.16 998.44 461.61 1004.17 458.06 1009.64C454.51 1015.11 450.96 1020.78 447.4 1026.85C443.85 1032.93 440.3 1039.49 436.75 1046.08C433.2 1052.67 429.65 1059.67 426.1 1066.39C422.55 1073.11 419 1079.79 415.45 1086.41C411.9 1093.03 408.35 1099.54 404.8 1106.11C401.25 1112.68 397.7 1119.07 394.15 1125.82C390.6 1132.57 387.05 1139.56 383.5 1146.63C379.94 1153.69 376.39 1160.9 372.84 1168.22C369.29 1175.54 365.74 1183.12 362.19 1190.54C358.64 1197.97 355.09 1205.56 351.54 1212.75C347.99 1219.93 344.44 1226.74 340.89 1233.67C337.34 1240.61 333.79 1248.12 330.24 1254.35C326.69 1260.59 323.14 1266.42 319.59 1271.08C316.03 1275.74 312.48 1279.14 308.93 1282.33C305.38 1285.53 301.83 1288.27 298.28 1290.24C294.73 1292.22 289.76 1293.49 287.63 1294.2C285.5 1294.91 285.85 1294.45 285.5 1294.5" fill="none" stroke="#6abd45" stroke-width="7" stroke-linecap="round" stroke-dasharray="12 19.9" stroke-dashoffset="20.7"/>
<path d="M197.62 1294.5H214.13" stroke="#6abd45" stroke-width="7"/>
<circle cx="214.13" cy="1294.5" r="3.5" fill="#6abd45"/>
<path d="M106.55 1294.5H182.18" stroke="#6abd45" stroke-width="7"/>
<circle cx="182.18" cy="1294.5" r="3.5" fill="#6abd45"/>
<clipPath id="cgs"><rect x="90" y="860" width="660" height="438"/></clipPath>
<path clip-path="url(#cgs)" d="M192.83 1301.19C193.68 1300.08 196.35 1296.58 197.94 1294.5C199.54 1292.42 199.9 1292.37 202.42 1288.72C204.94 1285.07 209.52 1280.61 213.07 1272.6C216.62 1264.59 220.17 1252.33 223.72 1240.67C227.27 1229.01 230.82 1217.7 234.37 1202.65C237.92 1187.59 241.47 1168.48 245.02 1150.34C248.57 1132.19 252.12 1113.13 255.68 1093.77C259.23 1074.4 262.78 1050.48 266.33 1034.15C269.88 1017.83 273.43 1005.92 276.98 995.83C280.53 985.74 284.08 979.31 287.63 973.63C291.18 967.95 294.73 964.73 298.28 961.77C301.83 958.81 305.38 957.29 308.93 955.87C312.48 954.45 316.03 953.79 319.59 953.25C323.14 952.71 326.69 952.64 330.24 952.64C333.79 952.64 337.34 952.95 340.89 953.25C344.44 953.56 347.99 954.1 351.54 954.47C355.09 954.83 358.64 955.24 362.19 955.44C365.74 955.64 369.29 955.63 372.84 955.68C376.39 955.74 379.94 955.74 383.5 955.76C387.05 955.79 390.6 955.81 394.15 955.84C397.7 955.86 401.25 955.89 404.8 955.91C408.35 955.94 411.9 955.98 415.45 955.99C419 956 422.55 955.97 426.1 955.96C429.65 955.95 433.2 955.94 436.75 955.93C440.3 955.92 443.85 955.91 447.4 955.9C450.96 955.89 454.51 955.88 458.06 955.87C461.61 955.86 465.16 955.85 468.71 955.84C472.26 955.83 475.81 955.82 479.36 955.81C482.91 955.8 486.46 955.79 490.01 955.78C493.56 955.77 497.11 955.76 500.66 955.75C504.21 955.74 507.76 955.73 511.32 955.72C514.87 955.71 518.42 955.7 521.97 955.68C525.52 955.67 529.07 955.64 532.62 955.62C536.17 955.6 539.72 955.58 543.27 955.56C546.82 955.54 550.37 955.52 553.92 955.5C557.47 955.48 561.02 955.46 564.57 955.44C568.12 955.42 571.67 955.4 575.23 955.38C578.78 955.36 582.33 955.34 585.88 955.32C589.43 955.3 592.98 955.28 596.53 955.26C600.08 955.24 603.63 955.22 607.18 955.2C610.73 955.18 614.28 955.16 617.83 955.14C621.38 955.12 624.93 955.1 628.48 955.08C632.03 955.06 635.58 955.04 639.13 955.02C642.69 955 646.24 954.98 649.79 954.95C653.34 954.93 656.89 954.91 660.44 954.89C663.99 954.87 667.54 954.85 671.09 954.83C674.64 954.81 678.19 954.79 681.74 954.77C685.29 954.75 688.84 954.73 692.39 954.71C695.94 954.69 699.49 954.67 703.04 954.65C706.6 954.63 710.15 954.61 713.7 954.59C717.25 954.57 720.8 954.55 724.35 954.53C727.9 954.51 733.22 954.48 735 954.47" fill="none" stroke="#6abd45" stroke-width="7"/>
<g class="tk" text-anchor="end">
<text x="73.6" y="1306.3">0</text>
<text x="73.6" y="1184.64">2</text>
<text x="73.6" y="1062.99">4</text>
<text x="73.6" y="941.33">6</text>
</g>
<g class="tk" text-anchor="middle">
<text x="95.4" y="1348">0</text>
<text x="308.43" y="1348">20</text>
<text x="521.47" y="1348">40</text>
<text x="734.5" y="1348">60</text>
</g>
<text class="al" text-anchor="middle" x="414.95" y="1401.3">Time (min)</text>
<text class="al" text-anchor="middle" transform="translate(33.1 1079.9) rotate(-90)">Rn</text>
<path d="M112.6 891H124.6a3.5 3.5 0 0 1 0 7H112.6ZM158 891H145a3.5 3.5 0 0 0 0 7H158Z" fill="#6abd45"/>
<path d="M112.6 935.5H158" stroke="#6abd45" stroke-width="7"/>
<text class="ls" x="184.2" y="903.4"><tspan class="it">C. neoformans</tspan> 60<tspan dx="1.4" dy="-2">°</tspan><tspan font-size="34" dx="-5" dy="2.3">C</tspan></text>
<text class="ls" x="184.2" y="944.5"><tspan class="it">C. neoformans</tspan> 65<tspan dx="1.4" dy="-2">°</tspan><tspan font-size="34" dx="-5" dy="2.3">C</tspan></text>
<path d="M471.2 1230H483.2a3.5 3.5 0 0 1 0 7H471.2ZM516 1230H503a3.5 3.5 0 0 0 0 7H516Z" fill="#ed1c24"/>
<path d="M471.2 1272.7H516" stroke="#ed1c24" stroke-width="7"/>
<text class="ls" x="542.3" y="1243.1"><tspan class="it">C. gattii</tspan> 60<tspan dx="1.4" dy="-2">°</tspan><tspan font-size="34" dx="-5" dy="2.3">C</tspan></text>
<text class="ls" x="542.3" y="1282"><tspan class="it">C. gattii</tspan> 65<tspan dx="1.4" dy="-2">°</tspan><tspan font-size="34" dx="-5" dy="2.3">C</tspan></text>
</g>
<g id="panelD">
<clipPath id="dlg"><rect x="988.3" y="880" width="45.7" height="160"/></clipPath>
<path d="M971.4 868.7H1610.7M969.35 1293.9H1612.75M971.4 866.65V1312.2M1610.7 866.65V1312.2M992.71 1293.9V1304M1014.02 1293.9V1304M1035.33 1293.9V1304M1056.64 1293.9V1304M1077.95 1293.9V1304M1099.26 1293.9V1304M1120.57 1293.9V1304M1141.88 1293.9V1304M1163.19 1293.9V1304M1184.5 1293.9V1312.2M1205.81 1293.9V1304M1227.12 1293.9V1304M1248.43 1293.9V1304M1269.74 1293.9V1304M1291.05 1293.9V1304M1312.36 1293.9V1304M1333.67 1293.9V1304M1354.98 1293.9V1304M1376.29 1293.9V1304M1397.6 1293.9V1312.2M1418.91 1293.9V1304M1440.22 1293.9V1304M1461.53 1293.9V1304M1482.84 1293.9V1304M1504.15 1293.9V1304M1525.46 1293.9V1304M1546.77 1293.9V1304M1568.08 1293.9V1304M1589.39 1293.9V1304M953.3 1293.9H971.4M953.3 1158.92H971.4M953.3 1023.93H971.4M953.3 888.95H971.4" fill="none" stroke="#040707" stroke-width="4.1"/>
<path d="M982.05 1293.9H1015.09M1035.33 1293.9H1045.98M1055.57 1293.9H1067.3" stroke="#6abd45" stroke-width="4.7"/>
<path d="M1015.09 1293.9H1035.33M1045.98 1293.9H1055.57M1067.3 1293.9H1077.95" stroke="#ed1c24" stroke-width="4.7"/>
<path d="M982.05 1289.85L992.71 1291.54M1000.7 1292.42L1012.42 1293.9M1165.49 1293.9H1171.55" stroke="#ed1c24" stroke-width="4.7" stroke-linecap="round" fill="none"/>
<path d="M1610.7 963.19C1608.92 963.19 1603.6 963.19 1600.05 963.19C1596.49 963.19 1592.94 963.19 1589.39 963.19C1585.84 963.19 1582.29 963.19 1578.74 963.19C1575.18 963.19 1571.63 963.19 1568.08 963.19C1564.53 963.19 1560.98 963.19 1557.43 963.19C1553.87 963.19 1550.32 963.19 1546.77 963.19C1543.22 963.19 1539.67 963.19 1536.12 963.19C1532.56 963.19 1529.01 963.19 1525.46 963.19C1521.91 963.19 1518.36 963.19 1514.81 963.19C1511.25 963.19 1507.7 963.19 1504.15 963.19C1500.6 963.19 1497.05 963.19 1493.49 963.19C1489.94 963.19 1486.39 963.19 1482.84 963.19C1479.29 963.19 1475.74 963.19 1472.18 963.19C1468.63 963.19 1465.08 963.19 1461.53 963.19C1457.98 963.19 1454.43 963.19 1450.88 963.19C1447.32 963.19 1443.77 963.19 1440.22 963.19C1436.67 963.19 1433.12 963.19 1429.57 963.19C1426.01 963.19 1422.46 963.19 1418.91 963.19C1415.36 963.19 1411.81 963.19 1408.26 963.19C1404.7 963.19 1401.15 963.19 1397.6 963.19C1394.05 963.19 1390.5 963.19 1386.95 963.19C1383.39 963.19 1379.84 963.19 1376.29 963.19C1372.74 963.19 1369.19 963.19 1365.63 963.19C1362.08 963.19 1358.53 963.19 1354.98 963.19C1351.43 963.19 1347.88 963.36 1344.33 963.19C1340.77 963.02 1337.22 962.57 1333.67 962.18C1330.12 961.78 1326.57 961.39 1323.01 960.83C1319.46 960.26 1315.91 959.31 1312.36 958.8C1308.81 958.3 1305.26 957.62 1301.7 957.79C1298.15 957.96 1294.6 958.31 1291.05 959.81C1287.5 961.32 1283.95 963.63 1280.39 966.83C1276.84 970.04 1273.29 973.43 1269.74 979.05C1266.19 984.67 1262.64 991.83 1259.09 1000.58C1255.53 1009.33 1251.98 1019.75 1248.43 1031.56C1244.88 1043.37 1241.33 1057.53 1237.78 1071.45C1234.22 1085.36 1230.67 1099.94 1227.12 1115.05C1223.57 1130.15 1220.02 1147.35 1216.46 1162.09C1212.91 1176.82 1209.36 1190.94 1205.81 1203.46C1202.26 1215.98 1198.71 1227.2 1195.15 1237.21C1191.6 1247.22 1188.05 1256.27 1184.5 1263.53C1180.95 1270.78 1177.4 1276.01 1173.85 1280.74C1170.29 1285.46 1165.85 1289.68 1163.19 1291.88C1160.53 1294.07 1158.75 1293.56 1157.86 1293.9" fill="none" stroke="#6abd45" stroke-width="4.7" stroke-linecap="round" stroke-dasharray="7.6 13.7" stroke-dashoffset="15.25"/>
<path d="M1141.88 1293.9C1143.66 1293.7 1148.98 1294.48 1152.54 1292.69C1156.09 1290.89 1159.64 1287.35 1163.19 1283.1C1166.74 1278.85 1170.29 1274.15 1173.85 1267.17C1177.4 1260.2 1180.95 1251.12 1184.5 1241.26C1188.05 1231.39 1191.6 1220.32 1195.15 1207.98C1198.71 1195.64 1202.26 1180.79 1205.81 1167.22C1209.36 1153.64 1212.91 1141.91 1216.46 1126.52C1220.02 1111.13 1223.57 1091.69 1227.12 1074.89C1230.67 1058.08 1234.22 1040.06 1237.78 1025.69C1241.33 1011.31 1244.88 998.43 1248.43 988.63C1251.98 978.84 1255.53 972.63 1259.09 966.9C1262.64 961.18 1266.19 957.37 1269.74 954.28C1273.29 951.19 1276.84 949.49 1280.39 948.34C1283.95 947.19 1287.5 947.17 1291.05 947.4C1294.6 947.62 1298.15 948.91 1301.7 949.69C1305.26 950.47 1308.81 951.38 1312.36 952.05C1315.91 952.73 1319.46 953.4 1323.01 953.74C1326.57 954.08 1330.12 954.03 1333.67 954.08C1337.22 954.13 1340.77 954.06 1344.33 954.05C1347.88 954.04 1351.43 954.03 1354.98 954.02C1358.53 954.01 1362.08 954 1365.63 953.99C1369.19 953.98 1372.74 953.96 1376.29 953.95C1379.84 953.94 1383.39 953.93 1386.95 953.92C1390.5 953.91 1394.05 953.9 1397.6 953.89C1401.15 953.88 1404.7 953.87 1408.26 953.86C1411.81 953.85 1415.36 953.84 1418.91 953.83C1422.46 953.82 1426.01 953.81 1429.57 953.8C1433.12 953.79 1436.67 953.78 1440.22 953.77C1443.77 953.76 1447.32 953.75 1450.88 953.74C1454.43 953.73 1457.98 953.71 1461.53 953.7C1465.08 953.68 1468.63 953.67 1472.18 953.65C1475.74 953.64 1479.29 953.62 1482.84 953.61C1486.39 953.59 1489.94 953.58 1493.49 953.56C1497.05 953.55 1500.6 953.53 1504.15 953.52C1507.7 953.5 1511.25 953.49 1514.81 953.47C1518.36 953.46 1521.91 953.44 1525.46 953.43C1529.01 953.41 1532.56 953.4 1536.12 953.38C1539.67 953.37 1543.22 953.35 1546.77 953.34C1550.32 953.32 1553.87 953.31 1557.43 953.29C1560.98 953.28 1564.53 953.26 1568.08 953.25C1571.63 953.23 1575.18 953.22 1578.74 953.2C1582.29 953.19 1585.84 953.17 1589.39 953.16C1592.94 953.14 1596.49 953.13 1600.05 953.11C1603.6 953.1 1608.92 953.07 1610.7 953.07" fill="none" stroke="#6abd45" stroke-width="4.7"/>
<path d="M1610.7 1079.28C1608.92 1079.28 1603.6 1079.28 1600.05 1079.28C1596.49 1079.28 1592.94 1079.28 1589.39 1079.28C1585.84 1079.28 1582.29 1079.28 1578.74 1079.28C1575.18 1079.28 1571.63 1079.28 1568.08 1079.28C1564.53 1079.28 1560.98 1079.28 1557.43 1079.28C1553.87 1079.28 1550.32 1079.28 1546.77 1079.28C1543.22 1079.28 1539.67 1079.28 1536.12 1079.28C1532.56 1079.28 1529.01 1079.28 1525.46 1079.28C1521.91 1079.28 1518.36 1079.28 1514.81 1079.28C1511.25 1079.28 1507.7 1079.28 1504.15 1079.28C1500.6 1079.28 1497.05 1079.28 1493.49 1079.28C1489.94 1079.28 1486.39 1079.28 1482.84 1079.28C1479.29 1079.28 1475.74 1079.28 1472.18 1079.28C1468.63 1079.28 1465.08 1079.28 1461.53 1079.28C1457.98 1079.28 1454.43 1079.28 1450.88 1079.28C1447.32 1079.28 1443.77 1079.28 1440.22 1079.28C1436.67 1079.28 1433.12 1079.28 1429.57 1079.28C1426.01 1079.28 1422.46 1079.31 1418.91 1079.28C1415.36 1079.24 1411.81 1079.19 1408.26 1079.07C1404.7 1078.96 1401.15 1078.74 1397.6 1078.6C1394.05 1078.47 1390.5 1078.26 1386.95 1078.26C1383.39 1078.26 1379.84 1078.15 1376.29 1078.6C1372.74 1079.05 1369.19 1079.95 1365.63 1080.96C1362.08 1081.97 1358.53 1083.04 1354.98 1084.67C1351.43 1086.31 1347.88 1088.33 1344.33 1090.75C1340.77 1093.17 1337.22 1095.92 1333.67 1099.19C1330.12 1102.45 1326.57 1106.1 1323.01 1110.32C1319.46 1114.54 1315.91 1119.26 1312.36 1124.49C1308.81 1129.73 1305.26 1135.44 1301.7 1141.71C1298.15 1147.97 1294.6 1154.92 1291.05 1162.09C1287.5 1169.25 1283.95 1177.4 1280.39 1184.7C1276.84 1192 1273.29 1199.03 1269.74 1205.89C1266.19 1212.75 1262.64 1219.41 1259.09 1225.87C1255.53 1232.32 1251.98 1238.75 1248.43 1244.63C1244.88 1250.51 1241.33 1256.22 1237.78 1261.17C1234.22 1266.12 1230.67 1270.84 1227.12 1274.33C1223.57 1277.81 1220.02 1279.9 1216.46 1282.09C1212.91 1284.28 1209.36 1286.03 1205.81 1287.49C1202.26 1288.95 1198.71 1289.96 1195.15 1290.86C1191.6 1291.76 1186.28 1292.55 1184.5 1292.89" fill="none" stroke="#ed1c24" stroke-width="4.7" stroke-linecap="round" stroke-dasharray="7.6 13.7" stroke-dashoffset="4.55"/>
<path d="M1205.81 1293.9C1207.59 1293.56 1212.91 1292.83 1216.46 1291.88C1220.02 1290.92 1223.57 1289.85 1227.12 1288.16C1230.67 1286.48 1234.22 1284.45 1237.78 1281.75C1241.33 1279.05 1244.88 1275.68 1248.43 1271.97C1251.98 1268.25 1255.53 1264.07 1259.09 1259.48C1262.64 1254.89 1266.19 1249.94 1269.74 1244.43C1273.29 1238.92 1276.84 1233.29 1280.39 1226.41C1283.95 1219.52 1287.5 1211 1291.05 1203.12C1294.6 1195.25 1298.15 1186.64 1301.7 1179.16C1305.26 1171.68 1308.81 1164.91 1312.36 1158.24C1315.91 1151.57 1319.46 1144.54 1323.01 1139.14C1326.57 1133.74 1330.12 1129.58 1333.67 1125.84C1337.22 1122.11 1340.77 1119.17 1344.33 1116.73C1347.88 1114.29 1351.43 1112.58 1354.98 1111.2C1358.53 1109.82 1362.08 1108.89 1365.63 1108.43C1369.19 1107.97 1372.74 1108.05 1376.29 1108.43C1379.84 1108.81 1383.39 1110.05 1386.95 1110.73C1390.5 1111.4 1394.05 1112.19 1397.6 1112.48C1401.15 1112.77 1404.7 1112.46 1408.26 1112.48C1411.81 1112.5 1415.36 1112.55 1418.91 1112.58C1422.46 1112.61 1426.01 1112.65 1429.57 1112.68C1433.12 1112.71 1436.67 1112.75 1440.22 1112.78C1443.77 1112.81 1447.32 1112.85 1450.88 1112.88C1454.43 1112.91 1457.98 1112.95 1461.53 1112.98C1465.08 1113.01 1468.63 1113.04 1472.18 1113.08C1475.74 1113.11 1479.29 1113.14 1482.84 1113.18C1486.39 1113.21 1489.94 1113.24 1493.49 1113.28C1497.05 1113.31 1500.6 1113.34 1504.15 1113.38C1507.7 1113.41 1511.25 1113.44 1514.81 1113.48C1518.36 1113.51 1521.91 1113.54 1525.46 1113.58C1529.01 1113.61 1532.56 1113.64 1536.12 1113.67C1539.67 1113.71 1543.22 1113.74 1546.77 1113.77C1550.32 1113.81 1553.87 1113.84 1557.43 1113.87C1560.98 1113.91 1564.53 1113.94 1568.08 1113.97C1571.63 1114.01 1575.18 1114.04 1578.74 1114.07C1582.29 1114.11 1585.84 1114.14 1589.39 1114.17C1592.94 1114.21 1596.49 1114.24 1600.05 1114.27C1603.6 1114.3 1608.92 1114.35 1610.7 1114.37" fill="none" stroke="#ed1c24" stroke-width="4.7"/>
<g class="tk" text-anchor="end">
<text x="949.1" y="1305.7">0</text>
<text x="949.1" y="1170.72">2</text>
<text x="949.1" y="1035.73">4</text>
<text x="949.1" y="900.75">6</text>
</g>
<g class="tk" text-anchor="middle">
<text x="970.9" y="1347.4">0</text>
<text x="1184" y="1347.4">20</text>
<text x="1397.1" y="1347.4">40</text>
<text x="1610.2" y="1347.4">60</text>
</g>
<text class="al" text-anchor="middle" x="1290.55" y="1400.7">Time (min)</text>
<text class="al" text-anchor="middle" transform="translate(909.4 1079.6) rotate(-90)">Rn</text>
<path d="M988.3 891.8H1034.0" stroke="#6abd45" stroke-width="4.7"/>
<text class="ls" x="1059.2" y="902.2"><tspan class="it">C. neoformans</tspan>1</text>
<path clip-path="url(#dlg)" d="M967.85 935.4H1044" stroke="#6abd45" stroke-width="4.7" stroke-linecap="round" stroke-dasharray="7.6 13.7" fill="none"/>
<text class="ls" x="1059.2" y="944.8"><tspan class="it">C. neoformans</tspan>2</text>
<path d="M988.3 979.0H1034.0" stroke="#ed1c24" stroke-width="4.7"/>
<text class="ls" x="1059.2" y="988.4"><tspan class="it">C. gattii</tspan>1</text>
<path clip-path="url(#dlg)" d="M967.85 1022.6H1044" stroke="#ed1c24" stroke-width="4.7" stroke-linecap="round" stroke-dasharray="7.6 13.7" fill="none"/>
<text class="ls" x="1059.2" y="1032.0"><tspan class="it">C. gattii</tspan>2</text>
<path d="M988.3 1065.8H1034.0" stroke="#040707" stroke-width="4.7"/>
<text class="ls" x="1059.2" y="1076.6">Negative</text>
<path d="M988.3 1107.4H1034.0" stroke="#040707" stroke-width="4.7"/>
<text class="ls" x="1059.2" y="1118.2">Negative</text>
</g>
</svg></body></html>
